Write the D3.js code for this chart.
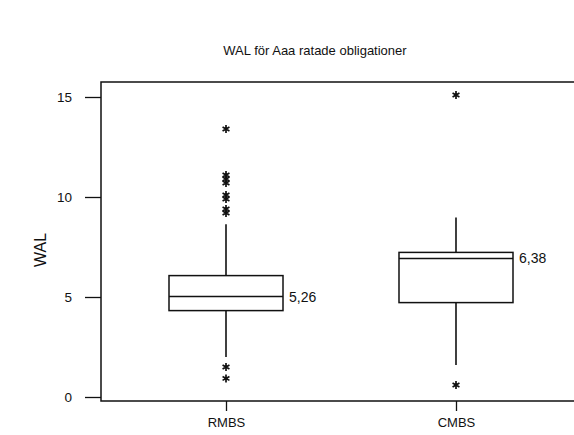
<!DOCTYPE html>
<html>
<head>
<meta charset="utf-8">
<script src="https://cdn.jsdelivr.net/npm/d3@7"></script>
<style>
  body { margin: 0; background: #fff; }
  svg text { font-family: "Liberation Sans", Arial, sans-serif; fill: #111; }
</style>
</head>
<body>
<svg width="574" height="435"></svg>
<script>
// values
let categories = ["RMBS", "CMBS"];
let q1 = [4.32, 4.72];
let medians = [5.02, 6.93];
let q3 = [6.07, 7.23];
let whiskerLow = [2.0, 1.6];
let whiskerHigh = [8.64, 8.97];
let meanLabels = ["5,26", "6,38"];
let outliers = [
    [13.4, 11.1, 10.9, 10.7, 10.1, 9.9, 9.4, 9.2, 1.5, 0.93],
    [15.1, 0.6]
];
let yTicks = [0, 5, 10, 15];

var svg = d3.select("svg");
var plotLeft = 101, plotRight = 581, plotTop = 82, plotBottom = 401;

var x = d3.scalePoint()
    .domain(categories)
    .range([plotLeft, plotRight])
    .padding(0.5435);

var y = d3.scaleLinear()
    .domain([-0.2, 15.75])
    .range([plotBottom, plotTop]);

var boxW = 114;

// title
svg.append("text")
    .attr("x", 315)
    .attr("y", 55)
    .attr("text-anchor", "middle")
    .style("font-size", "13px")
    .text("WAL för Aaa ratade obligationer");

// y axis label
svg.append("text")
    .attr("transform", "translate(46,250) rotate(-90)")
    .attr("text-anchor", "middle")
    .style("font-size", "16px")
    .text("WAL");

// frame (right side falls outside the picture)
svg.append("path")
    .attr("d", "M" + plotRight + "," + plotTop + "H" + plotLeft + "V" + plotBottom + "H" + plotRight)
    .attr("fill", "none")
    .attr("stroke", "#111")
    .attr("stroke-width", 1.5);

// y axis
var yAxis = svg.append("g")
    .attr("transform", "translate(" + plotLeft + ",0)")
    .call(d3.axisLeft(y).tickValues(yTicks).tickSize(16).tickPadding(13));
yAxis.select(".domain").remove();
yAxis.selectAll("line").attr("stroke", "#111").attr("stroke-width", 1.3);
yAxis.selectAll("text").style("font-size", "13.5px").style("font-family", "Liberation Sans, Arial, sans-serif").attr("fill", "#111");

// x axis
var xAxis = svg.append("g")
    .attr("transform", "translate(0," + plotBottom + ")")
    .call(d3.axisBottom(x).tickSize(10).tickPadding(7));
xAxis.select(".domain").remove();
xAxis.selectAll("line").attr("stroke", "#111").attr("stroke-width", 1.3);
xAxis.selectAll("text").style("font-size", "13px").style("font-family", "Liberation Sans, Arial, sans-serif").attr("fill", "#111");

var rows = categories.map(function (c, i) {
    return { cat: c, q1: q1[i], med: medians[i], q3: q3[i], lo: whiskerLow[i], hi: whiskerHigh[i], label: meanLabels[i], out: outliers[i] };
});

var boxes = svg.selectAll("g.box")
    .data(rows)
    .join("g")
    .attr("class", "box");

// whiskers
boxes.append("line")
    .attr("x1", function (d) { return x(d.cat); })
    .attr("x2", function (d) { return x(d.cat); })
    .attr("y1", function (d) { return y(d.q3); })
    .attr("y2", function (d) { return y(d.hi); })
    .attr("stroke", "#111").attr("stroke-width", 1.6);
boxes.append("line")
    .attr("x1", function (d) { return x(d.cat); })
    .attr("x2", function (d) { return x(d.cat); })
    .attr("y1", function (d) { return y(d.q1); })
    .attr("y2", function (d) { return y(d.lo); })
    .attr("stroke", "#111").attr("stroke-width", 1.6);

// box
boxes.append("rect")
    .attr("x", function (d) { return x(d.cat) - boxW / 2; })
    .attr("y", function (d) { return y(d.q3); })
    .attr("width", boxW)
    .attr("height", function (d) { return y(d.q1) - y(d.q3); })
    .attr("fill", "#fff")
    .attr("stroke", "#111").attr("stroke-width", 1.5);

// median
boxes.append("line")
    .attr("x1", function (d) { return x(d.cat) - boxW / 2; })
    .attr("x2", function (d) { return x(d.cat) + boxW / 2; })
    .attr("y1", function (d) { return y(d.med); })
    .attr("y2", function (d) { return y(d.med); })
    .attr("stroke", "#111").attr("stroke-width", 1.5);

// label
boxes.append("text")
    .attr("x", function (d) { return x(d.cat) + boxW / 2 + 6; })
    .attr("y", function (d) { return y(d.med); })
    .attr("dy", "0.35em")
    .style("font-size", "14px")
    .text(function (d) { return d.label; });

// outliers
var star = d3.symbol().type(d3.symbolAsterisk).size(44);
boxes.each(function (d) {
    d3.select(this).selectAll("path.out")
        .data(d.out)
        .join("path")
        .attr("class", "out")
        .attr("transform", function (v) { return "translate(" + x(d.cat) + "," + y(v) + ")"; })
        .attr("d", star)
        .attr("fill", "none")
        .attr("stroke", "#111")
        .attr("stroke-width", 1.7);
});
</script>
</body>
</html>
